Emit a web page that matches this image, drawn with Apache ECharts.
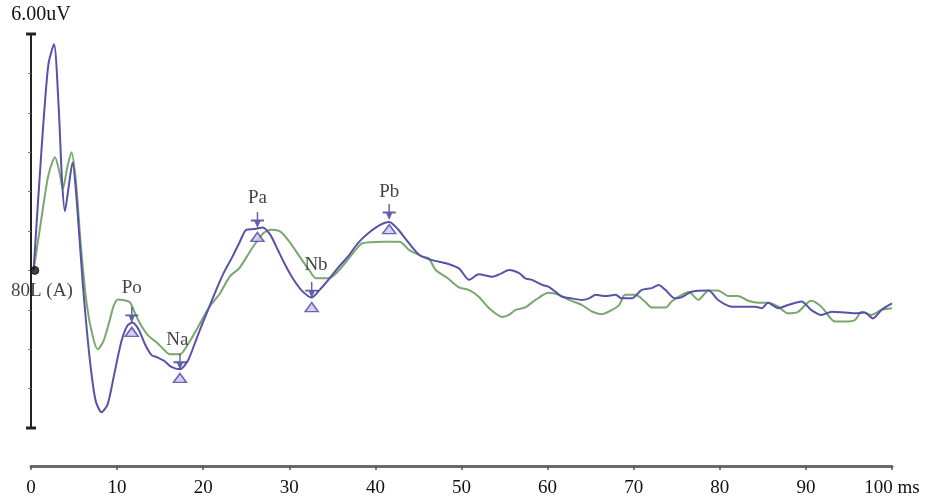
<!DOCTYPE html>
<html>
<head>
<meta charset="utf-8">
<script src="https://cdn.jsdelivr.net/npm/echarts@6/dist/echarts.min.js"></script>
<style>
  html, body { margin: 0; padding: 0; background: #fff; }
  #main { width: 926px; height: 498px; }
</style>
</head>
<body>
<div id="main"></div>
<script>
// time axis (ms) and amplitude (uV)
const blueTime = [0.3, 1.2, 2.0, 2.67, 3.2, 3.6, 3.94, 4.3, 4.83, 5.3, 6.0, 6.8, 7.5, 8.19, 8.9, 9.7, 10.5, 11.2, 11.8, 12.5, 13.3, 14.0, 14.6, 15.5, 16.3, 17.3, 18.2, 19.2, 20.0, 20.7, 21.5, 22.3, 23.4, 24.2, 25.0, 26.0, 26.9, 27.8, 28.6, 29.5, 30.4, 31.4, 32.6, 33.5, 34.5, 35.6, 36.8, 38.0, 39.2, 40.5, 41.6, 42.6, 43.5, 45.1, 46.6, 48.2, 49.7, 50.9, 52.0, 53.6, 54.7, 55.5, 56.7, 57.4, 58.2, 59.4, 60.1, 60.9, 61.7, 62.8, 64.0, 64.8, 65.6, 66.7, 67.9, 68.6, 69.8, 70.9, 72.1, 72.9, 73.7, 74.8, 75.6, 76.7, 78.7, 79.8, 81.4, 84.1, 84.9, 85.6, 86.8, 87.9, 89.5, 90.6, 91.8, 93.0, 94.5, 95.7, 96.8, 97.8, 98.8, 100];
const blueAmp = [0, 3.0, 5.2, 5.74, 4.2, 2.3, 1.5, 2.0, 2.74, 1.8, -0.3, -2.2, -3.3, -3.6, -3.4, -2.6, -1.8, -1.4, -1.32, -1.5, -1.9, -2.15, -2.2, -2.3, -2.45, -2.51, -2.3, -1.75, -1.3, -0.93, -0.5, -0.1, 0.35, 0.7, 1.03, 1.05, 1.09, 0.9, 0.55, 0.15, -0.2, -0.5, -0.69, -0.5, -0.25, 0.05, 0.35, 0.7, 0.95, 1.15, 1.23, 1.05, 0.8, 0.39, 0.26, 0.18, 0.05, -0.24, -0.1, -0.16, -0.07, 0.01, -0.07, -0.2, -0.24, -0.37, -0.41, -0.54, -0.67, -0.71, -0.75, -0.71, -0.62, -0.65, -0.62, -0.71, -0.71, -0.5, -0.45, -0.37, -0.5, -0.71, -0.68, -0.54, -0.51, -0.75, -0.92, -0.92, -0.96, -0.82, -0.96, -0.88, -0.79, -1.0, -1.13, -1.05, -1.07, -1.09, -1.07, -1.22, -1.0, -0.84];

const greenTime = [0.3, 1.2, 2.0, 2.78, 3.3, 3.7, 4.2, 4.7, 5.2, 5.8, 6.5, 7.2, 7.76, 8.4, 9.1, 9.6, 10.1, 10.8, 11.5, 12.1, 12.8, 13.6, 14.6, 15.4, 16.1, 17.3, 18.3, 19.5, 20.7, 21.9, 23.1, 24.2, 25.7, 27.0, 27.9, 29.0, 30.0, 31.2, 32.3, 33.1, 34.6, 35.8, 37.7, 38.5, 40.8, 42.8, 43.9, 45.5, 46.2, 47.0, 48.4, 49.7, 50.9, 52.0, 53.2, 54.7, 55.5, 56.3, 57.4, 58.6, 60.1, 61.3, 62.5, 64.0, 65.2, 66.3, 67.5, 68.3, 69.0, 70.2, 71.3, 72.1, 73.7, 74.4, 75.2, 76.4, 77.5, 78.7, 79.8, 81.0, 82.1, 83.3, 84.5, 85.6, 86.8, 87.9, 89.1, 90.6, 91.8, 93.4, 94.9, 95.7, 96.5, 97.6, 98.8, 100];
const greenAmp = [0, 1.3, 2.4, 2.87, 2.5, 2.06, 2.6, 3.0, 2.3, 0.6, -0.9, -1.7, -2.0, -1.8, -1.3, -0.9, -0.74, -0.76, -0.81, -1.1, -1.4, -1.65, -1.83, -2.0, -2.13, -2.13, -1.85, -1.4, -0.93, -0.6, -0.15, 0.06, 0.57, 0.95, 1.03, 0.98, 0.73, 0.35, 0.01, -0.2, -0.2, 0.01, 0.52, 0.69, 0.73, 0.73, 0.52, 0.35, 0.31, 0.01, -0.2, -0.43, -0.5, -0.67, -0.96, -1.18, -1.13, -1.0, -0.94, -0.75, -0.57, -0.62, -0.75, -0.88, -1.05, -1.11, -1.0, -0.88, -0.62, -0.62, -0.79, -0.94, -0.94, -0.79, -0.67, -0.55, -0.75, -0.51, -0.51, -0.65, -0.65, -0.77, -0.82, -0.82, -0.92, -1.09, -1.05, -0.77, -0.92, -1.3, -1.3, -1.26, -1.05, -1.13, -1.0, -0.96];

// marked peaks
const peakNames = ['Po', 'Na', 'Pa', 'Nb', 'Pb'];
const peakTime = [11.7, 17.3, 26.3, 32.6, 41.6];
const arrowAmp = [-1.13, -2.32, 1.28, -0.5, 1.48];
const triangleAmp = [-1.56, -2.73, 0.85, -0.93, 1.05];
const labelTime = [11.7, 17.0, 26.3, 33.1, 41.6];
const labelAmp = [-0.45, -1.77, 1.84, 0.14, 1.99];

const serif = 'Liberation Serif';
const pair = (xs, ys) => xs.map((x, i) => [x, ys[i]]);

const arrowPath = 'path://M9,0 L11,0 L11,8 L19,8 L19,10 L14,10 L10,17 L6,10 L1,10 L1,8 L9,8 Z';
const trianglePath = 'path://M7,0 L14,11 L0,11 Z';

let myChart = echarts.init(document.getElementById('main'));

let option = {
  animation: false,
  backgroundColor: '#fff',
  grid: {
    left: 31,
    right: 34,
    top: 34,
    bottom: 70,
  },
  xAxis: {
    type: 'value',
    min: 0,
    max: 100,
    interval: 10,
    offset: 38,
    axisLine: { onZero: false, lineStyle: { color: '#6a6a6a', width: 3 } },
    axisTick: { length: 4, lineStyle: { color: '#555', width: 1.5 } },
    splitLine: { show: false },
    axisLabel: {
      margin: 13,
      fontFamily: serif,
      fontSize: 19,
      color: '#111',
      formatter: (v) => (v === 100 ? '100 ms' : String(v)),
    },
  },
  yAxis: {
    type: 'value',
    min: -4,
    max: 6,
    interval: 1,
    name: '6.00uV',
    nameLocation: 'end',
    nameGap: 9,
    nameTextStyle: { fontFamily: serif, fontSize: 20, color: '#111', padding: [0, 0, 0, 20] },
    axisLine: {
      show: true,
      symbol: ['rect', 'rect'],
      symbolSize: [10, 3],
      lineStyle: { color: '#222', width: 2 },
    },
    axisTick: { show: true, length: 3, lineStyle: { color: '#777' } },
    axisLabel: { show: false },
    splitLine: { show: false },
  },
  series: [
    {
      name: 'green',
      type: 'line',
      data: pair(greenTime, greenAmp),
      showSymbol: false,
      smooth: 0.25,
      lineStyle: { color: '#78a86e', width: 2 },
      z: 2,
    },
    {
      name: 'blue',
      type: 'line',
      data: pair(blueTime, blueAmp),
      showSymbol: false,
      smooth: 0.25,
      lineStyle: { color: '#5852a8', width: 2 },
      z: 3,
    },
    {
      name: 'arrows',
      type: 'scatter',
      data: pair(peakTime, arrowAmp),
      symbol: arrowPath,
      symbolSize: [13, 16],
      itemStyle: { color: '#3b3a8e' },
      z: 5,
    },
    {
      name: 'triangles',
      type: 'scatter',
      data: pair(peakTime, triangleAmp),
      symbol: trianglePath,
      symbolSize: [13, 9],
      itemStyle: { color: '#c9c6ef', borderColor: '#4845a0', borderWidth: 1.5 },
      z: 5,
    },
    {
      name: 'peak labels',
      type: 'scatter',
      data: labelTime.map((t, i) => ({ value: [t, labelAmp[i]], name: peakNames[i] })),
      symbolSize: 0,
      label: {
        show: true,
        position: 'inside',
        formatter: '{b}',
        fontFamily: serif,
        fontSize: 19,
        color: '#111',
      },
      z: 6,
    },
    {
      name: 'reference',
      type: 'scatter',
      data: [{ value: [0.45, 0], name: '80L (A)' }],
      symbol: 'circle',
      symbolSize: 8,
      clip: false,
      itemStyle: { color: '#111', borderColor: '#111', borderWidth: 1 },
      label: {
        show: true,
        position: 'bottom',
        distance: 7,
        offset: [7, 0],
        formatter: '{b}',
        fontFamily: serif,
        fontSize: 19,
        color: '#111',
      },
      z: 7,
    },
  ],
};

myChart.setOption(option);
</script>
</body>
</html>
